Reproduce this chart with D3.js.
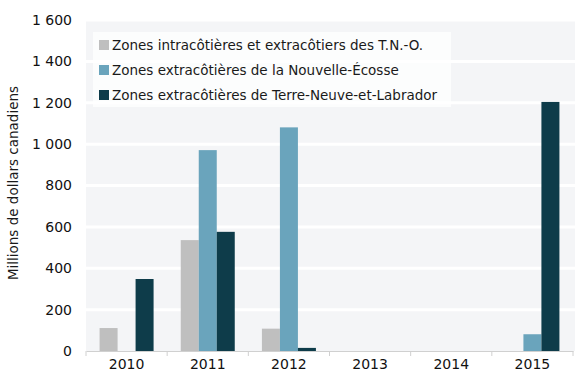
<!DOCTYPE html>
<html><head><meta charset="utf-8">
<script src="https://cdn.jsdelivr.net/npm/d3@7"></script>
<style>body{margin:0;background:#fff}svg{display:block}text{font-family:"DejaVu Sans",Verdana,sans-serif;fill:#1a1a1a}</style>
</head><body><svg id="c" width="580" height="380"></svg>
<script>
const years = ["2010","2011","2012","2013","2014","2015"];
const seriesNames = ["Zones intracôtières et extracôtiers des T.N.-O.","Zones extracôtières de la Nouvelle-Écosse","Zones extracôtières de Terre-Neuve-et-Labrador"];
const tno = [111, 536, 108, 0, 0, 0];
const ne = [0, 971, 1081, 0, 0, 81];
const tnl = [348, 576, 15, 0, 0, 1204];
const yTicks = [0,200,400,600,800,1000,1200,1400,1600];
const yTickLabels = ["0","200","400","600","800","1 000","1 200","1 400","1 600"];
const colors = ["#bfbfbf","#6aa4bc","#0e3c4a"];
const yTitle = "Millions de dollars canadiens";

const svg = d3.select("#c");
const m = {l:86, r:575, t:20, b:351};
const x = d3.scaleBand().domain(years).range([m.l, 573]).paddingInner(0).paddingOuter(0);
const y = d3.scaleLinear().domain([0,1600]).range([m.b, m.t]);
const xs = d3.scaleBand().domain([0,1,2]).range([0, 54]);

svg.append("rect").attr("x", m.l).attr("y", m.t).attr("width", m.r-m.l).attr("height", m.b-m.t).attr("fill","#f4f5f7");
svg.append("g").selectAll("line").data(yTicks.slice(1)).join("line")
  .attr("x1", m.l).attr("x2", m.r).attr("y1", d=>y(d)).attr("y2", d=>y(d))
  .attr("stroke","#fff").attr("stroke-width",3);

const data = [tno, ne, tnl];
const g = svg.append("g");
data.forEach((arr, si) => {
  g.selectAll(null).data(arr.map((v,i)=>({v, yr: years[i]}))).join("rect")
    .filter(d=>d.v>0)
    .attr("x", d=> x(d.yr) + (x.bandwidth()-54)/2 + xs(si))
    .attr("width", xs.bandwidth())
    .attr("y", d=> y(d.v)).attr("height", d=> y(0)-y(d.v))
    .attr("fill", colors[si]);
});

// x axis
const xa = svg.append("g").attr("transform",`translate(0,${m.b})`)
  .call(d3.axisBottom(x).tickSize(0).tickPadding(8));
xa.select(".domain").attr("stroke","#d0d0d0");
xa.selectAll("text").attr("font-size",14).style("font-family","DejaVu Sans").style("fill","#111");
svg.append("g").selectAll("line").data(years.concat(["end"])).join("line")
  .attr("x1", (d,i)=> m.l + i*x.step()).attr("x2",(d,i)=> m.l + i*x.step())
  .attr("y1", m.b).attr("y2", m.b+5).attr("stroke","#d0d0d0");

// y axis
const ya = svg.append("g").attr("transform",`translate(${m.l},0)`)
  .call(d3.axisLeft(y).tickValues(yTicks).tickFormat((d,i)=>yTickLabels[i]).tickSize(0).tickPadding(14));
ya.select(".domain").remove();
ya.selectAll("text").attr("font-size",14).style("font-family","DejaVu Sans").style("fill","#111");

svg.append("text").attr("transform",`translate(18,183) rotate(-90)`)
  .attr("text-anchor","middle").attr("font-size",13.5).text(yTitle);

// legend
const lg = svg.append("g");
lg.append("rect").attr("x",93).attr("y",32).attr("width",358).attr("height",75).attr("fill","#fff").attr("opacity",0.75);
seriesNames.forEach((n,i)=>{
  const yy = 45 + i*25;
  lg.append("rect").attr("x",99).attr("y",yy-5).attr("width",10).attr("height",10).attr("fill",colors[i]);
  lg.append("text").attr("x",112).attr("y",yy).attr("dy","0.35em").attr("font-size",13.5).text(n);
});
</script></body></html>
